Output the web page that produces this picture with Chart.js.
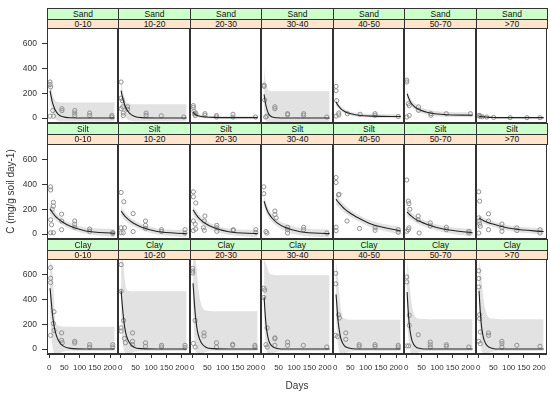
<!DOCTYPE html>
<html>
<head>
<meta charset="utf-8">
<script src="https://cdn.jsdelivr.net/npm/chart.js@4.4.0/dist/chart.umd.min.js"></script>
<style>
  body { margin: 0; background: #fff; width: 550px; height: 395px; position: relative; overflow: hidden;
         font-family: "Liberation Sans", Arial, sans-serif; }
  .box { position: absolute; }
  .strip { position: absolute; box-sizing: border-box; border: 1px solid #333; text-align: center;
           font-size: 8.5px; color: #111; white-space: nowrap; overflow: hidden; }
</style>
</head>
<body>
<script>
const TEXTURES = ['Sand', 'Silt', 'Clay'];
const DEPTHS = ['0-10', '10-20', '20-30', '30-40', '40-50', '50-70', '>70'];
const X_TICKS = [0, 50, 100, 150, 200];
const Y_TICKS = [0, 200, 400, 600];
const FIT_DAYS = [3, 6, 10, 15, 20, 30, 45, 70, 120, 215];

// fitted curve, one row per depth, read at FIT_DAYS
const sandFit = [
  [220, 180, 135, 95, 65, 30, 10, 2, 0, 0],
  [220, 185, 145, 105, 75, 40, 15, 3, 0, 0],
  [50, 40, 30, 22, 18, 12, 8, 5, 3, 3],
  [190, 140, 90, 50, 25, 8, 2, 0, 0, 0],
  [130, 115, 100, 85, 72, 55, 38, 25, 15, 12],
  [195, 175, 150, 125, 108, 85, 65, 45, 28, 22],
  [15, 13, 12, 10, 9, 7, 5, 3, 3, 3]
];
const sandUpper = [
  [310, 270, 210, 165, 140, 128, 125, 125, 125, 125],
  [300, 260, 200, 155, 130, 115, 110, 110, 110, 110],
  [80, 65, 50, 40, 33, 25, 20, 15, 15, 15],
  [400, 330, 270, 230, 220, 216, 215, 215, 215, 215],
  [160, 140, 122, 105, 92, 72, 55, 42, 32, 30],
  [230, 205, 180, 155, 138, 112, 90, 68, 50, 45],
  [23, 21, 20, 18, 17, 15, 13, 11, 11, 11]
];
const sandLower = [
  [130, 90, 55, 20, -5, -25, -28, -28, -28, -28],
  [140, 100, 60, 25, 0, -20, -25, -25, -25, -25],
  [20, 15, 10, 5, 3, 0, -3, -5, -5, -5],
  [60, 10, -30, -35, -35, -35, -35, -35, -35, -35],
  [100, 88, 78, 65, 55, 40, 25, 12, 2, -2],
  [160, 145, 122, 100, 82, 60, 42, 25, 10, 5],
  [7, 5, 4, 2, 1, -1, -3, -5, -5, -5]
];
const siltFit = [
  [200, 190, 175, 160, 145, 122, 95, 62, 25, 5],
  [185, 175, 160, 145, 132, 110, 85, 55, 20, 3],
  [195, 183, 168, 150, 135, 110, 83, 52, 18, 3],
  [265, 240, 210, 180, 158, 125, 90, 55, 18, 3],
  [280, 270, 258, 243, 230, 205, 175, 138, 78, 25],
  [178, 170, 160, 148, 138, 120, 100, 75, 40, 10],
  [130, 125, 118, 112, 105, 95, 82, 65, 40, 20]
];
const siltUpper = [
  [245, 230, 212, 193, 177, 150, 120, 88, 52, 40],
  [225, 212, 197, 180, 166, 140, 112, 80, 45, 30],
  [235, 220, 203, 183, 167, 138, 108, 77, 45, 32],
  [310, 282, 250, 218, 193, 155, 118, 85, 48, 35],
  [325, 310, 295, 278, 263, 237, 205, 165, 105, 55],
  [215, 204, 192, 178, 167, 147, 125, 100, 65, 40],
  [160, 152, 145, 137, 130, 118, 104, 87, 62, 45]
];
const siltLower = [
  [155, 148, 138, 125, 113, 94, 70, 38, 3, -25],
  [145, 138, 125, 110, 98, 80, 58, 30, -3, -25],
  [155, 146, 133, 117, 103, 82, 58, 27, -5, -25],
  [220, 198, 170, 142, 123, 95, 62, 25, -10, -28],
  [235, 228, 220, 208, 197, 173, 145, 110, 52, -5],
  [140, 135, 127, 117, 108, 93, 75, 50, 15, -20],
  [100, 98, 92, 87, 80, 72, 60, 43, 18, -5]
];
const clayFit = [
  [490, 410, 300, 205, 140, 70, 25, 5, 0, 0],
  [470, 380, 270, 170, 110, 50, 15, 3, 0, 0],
  [530, 420, 290, 180, 115, 50, 15, 3, 0, 0],
  [420, 300, 180, 100, 55, 20, 5, 0, 0, 0],
  [440, 340, 220, 130, 75, 28, 8, 0, 0, 0],
  [460, 330, 200, 110, 60, 20, 5, 0, 0, 0],
  [470, 340, 210, 120, 70, 25, 7, 0, 0, 0]
];
const clayUpper = [
  [700, 690, 640, 450, 230, 190, 182, 180, 180, 180],
  [730, 730, 700, 560, 480, 468, 465, 465, 465, 465],
  [730, 730, 730, 650, 500, 360, 310, 305, 305, 305],
  [730, 710, 680, 640, 610, 598, 595, 595, 595, 595],
  [700, 650, 560, 420, 300, 245, 237, 235, 235, 235],
  [700, 660, 560, 420, 330, 260, 243, 240, 240, 240],
  [710, 680, 600, 460, 360, 270, 245, 240, 240, 240]
];
const clayLower = [
  [300, 150, 40, -20, -45, -40, -22, -16, -15, -15],
  [280, 130, 20, -30, -45, -38, -22, -16, -15, -15],
  [320, 150, 20, -30, -45, -38, -22, -16, -15, -15],
  [250, 100, 0, -40, -45, -36, -22, -16, -15, -15],
  [260, 130, 20, -30, -45, -38, -22, -16, -15, -15],
  [270, 130, 20, -30, -45, -38, -22, -16, -15, -15],
  [270, 130, 15, -30, -45, -38, -22, -16, -15, -15]
];

// observations [day, C]
const sandObs = [
  [[3,290],[3,270],[5,250],[3,15],[14,15],[12,60],[42,75],[42,60],[84,60],[84,40],[84,20],[133,40],[133,20],[206,20],[206,8]],
  [[3,290],[3,160],[3,75],[7,140],[8,90],[10,40],[10,20],[24,90],[24,70],[84,40],[84,22],[133,18],[206,8]],
  [[4,100],[4,85],[6,55],[8,35],[12,40],[10,20],[42,35],[42,22],[80,8],[80,20],[134,30],[134,8],[208,8]],
  [[3,265],[3,255],[5,145],[8,8],[12,15],[38,90],[38,75],[79,35],[79,27],[131,35],[131,22],[206,8]],
  [[3,255],[3,220],[5,140],[3,15],[12,40],[12,25],[40,35],[82,30],[131,35],[131,22],[207,12]],
  [[2,305],[2,290],[7,115],[10,100],[2,8],[10,20],[40,90],[40,62],[80,35],[80,22],[130,35],[208,35]],
  [[2,20],[5,20],[7,12],[14,10],[28,8],[51,5],[105,3],[160,3],[203,3]]
];
const siltObs = [
  [[5,380],[5,355],[14,255],[14,225],[10,200],[5,115],[8,75],[5,10],[14,10],[41,160],[41,105],[41,35],[84,105],[84,80],[84,55],[133,40],[133,22],[209,5],[209,12]],
  [[3,335],[12,260],[3,50],[3,10],[10,10],[14,50],[42,165],[42,20],[82,105],[82,70],[82,45],[134,35],[134,20],[210,35],[210,8]],
  [[4,340],[4,300],[12,250],[4,105],[10,80],[4,28],[12,40],[42,145],[40,105],[37,50],[40,30],[81,70],[81,50],[81,22],[135,35],[135,30],[209,35],[209,14]],
  [[2,380],[2,325],[38,185],[38,157],[9,20],[12,8],[42,130],[79,54],[79,35],[79,8],[131,54],[131,35],[206,8]],
  [[3,455],[3,415],[11,315],[13,320],[3,55],[3,27],[39,105],[80,45],[131,50],[131,30],[207,35],[207,14]],
  [[2,435],[7,265],[9,245],[12,200],[9,50],[7,35],[2,22],[39,145],[39,115],[42,8],[78,90],[78,65],[130,55],[130,35],[203,22],[203,8]],
  [[2,340],[5,265],[2,130],[3,105],[5,80],[7,62],[34,163],[34,105],[34,35],[2,8],[78,80],[78,50],[78,22],[127,50],[127,28],[203,35],[203,8]]
];
const clayObs = [
  [[5,655],[5,570],[5,535],[5,110],[16,300],[14,205],[16,150],[41,130],[41,70],[43,50],[84,62],[84,48],[133,35],[133,16],[209,35],[209,16]],
  [[3,680],[3,465],[3,170],[3,145],[11,230],[14,85],[17,50],[40,130],[40,62],[40,35],[82,50],[82,22],[134,30],[134,16],[210,30],[210,11]],
  [[2,650],[2,628],[2,612],[4,45],[10,16],[10,230],[39,130],[39,105],[80,50],[80,16],[133,38],[133,30],[206,30],[206,16]],
  [[2,490],[5,475],[2,415],[13,170],[9,35],[13,16],[38,90],[38,83],[38,30],[79,56],[79,30],[130,30],[206,16]],
  [[2,610],[2,525],[1,110],[8,100],[11,275],[14,250],[35,130],[35,78],[79,35],[79,22],[131,35],[131,22],[207,30],[207,16]],
  [[2,580],[2,540],[2,25],[8,25],[10,272],[10,190],[39,115],[78,56],[78,35],[78,16],[130,35],[130,22],[203,16]],
  [[2,630],[2,568],[2,500],[5,277],[5,245],[7,137],[2,62],[7,43],[34,130],[34,110],[78,62],[78,43],[78,16],[127,30],[203,22]]
];

const FIT = [sandFit, siltFit, clayFit];
const UPPER = [sandUpper, siltUpper, clayUpper];
const LOWER = [sandLower, siltLower, clayLower];
const OBS = [sandObs, siltObs, clayObs];

// page layout
const COL_X = [47, 118, 190, 261, 333, 404, 476, 547];
const ROW_STRIP = [8, 123, 239];
const ROW_TOP = [28, 144, 259];
const ROW_BOTTOM = [123, 239, 354];
const FONT = '"Liberation Sans", Arial, sans-serif';

const framePlugin = {
  id: 'frame',
  afterDraw(chart) {
    const a = chart.chartArea, ctx = chart.ctx;
    ctx.save();
    ctx.strokeStyle = '#333';
    ctx.lineWidth = 1;
    ctx.strokeRect(a.left + 0.5, a.top + 0.5, a.right - a.left - 1, a.bottom - a.top - 1);
    ctx.restore();
  }
};

function addStrip(text, x, y, w, h, bg) {
  const d = document.createElement('div');
  d.className = 'strip';
  d.style.left = x + 'px';
  d.style.top = y + 'px';
  d.style.width = w + 'px';
  d.style.height = h + 'px';
  d.style.lineHeight = (h - 2) + 'px';
  d.style.background = bg;
  d.textContent = text;
  document.body.appendChild(d);
}

function xy(days, vals) {
  return days.map((d, i) => ({ x: d, y: vals[i] }));
}

function drawPanel(r, c) {
  const left = c === 0 ? 0 : COL_X[c];
  const top = ROW_TOP[r];
  const w = COL_X[c + 1] - left;
  const h = (r === 2 ? 395 : ROW_BOTTOM[r]) - top;
  const box = document.createElement('div');
  box.className = 'box';
  box.style.left = left + 'px';
  box.style.top = top + 'px';
  box.style.width = w + 'px';
  box.style.height = h + 'px';
  const cv = document.createElement('canvas');
  box.appendChild(cv);
  document.body.appendChild(box);

  // strips
  const sx = COL_X[c], sw = COL_X[c + 1] - COL_X[c] + 1;
  const mid = ROW_STRIP[r] + 11;
  addStrip(TEXTURES[r], sx, ROW_STRIP[r], sw, mid - ROW_STRIP[r] + 1, '#ccffcc');
  addStrip(DEPTHS[c], sx, mid, sw, ROW_TOP[r] - mid + 1, '#ffe5cc');

  new Chart(cv, {
    type: 'line',
    data: {
      datasets: [
        { data: xy(FIT_DAYS, UPPER[r][c]), borderWidth: 0, pointRadius: 0, fill: '+1',
          backgroundColor: '#e2e2e2', cubicInterpolationMode: 'monotone', order: 3 },
        { data: xy(FIT_DAYS, LOWER[r][c]), borderWidth: 0, pointRadius: 0, fill: false,
          cubicInterpolationMode: 'monotone', order: 3 },
        { data: xy(FIT_DAYS, FIT[r][c]), borderColor: '#222', borderWidth: 1.1, pointRadius: 0,
          fill: false, cubicInterpolationMode: 'monotone', order: 1 },
        { type: 'scatter', data: OBS[r][c].map(p => ({ x: p[0], y: p[1] })), borderColor: '#909090',
          backgroundColor: 'rgba(0,0,0,0)', pointRadius: 2.1, borderWidth: 1, order: 2 }
      ]
    },
    options: {
      responsive: true,
      maintainAspectRatio: false,
      animation: false,
      devicePixelRatio: 1,
      layout: { padding: 0, autoPadding: false },
      plugins: { legend: { display: false }, tooltip: { enabled: false },
                 filler: { drawTime: 'beforeDatasetsDraw' } },
      scales: {
        x: {
          type: 'linear', min: -7, max: 226, display: r === 2,
          afterBuildTicks: s => { s.ticks = X_TICKS.map(v => ({ value: v })); },
          afterFit: s => {
            if (!s.options.display) return;
            s.height = 41; s.paddingLeft = 0; s.paddingRight = 0;
          },
          grid: { drawOnChartArea: false, tickLength: 4, color: '#333' },
          border: { color: '#333' },
          ticks: { font: { size: 8, family: FONT }, color: '#333', padding: 5, maxRotation: 0, autoSkip: false },
          title: { display: r === 2 && c === 3, text: 'Days', color: '#333',
                   font: { size: 10, family: FONT }, padding: { top: 0, bottom: 3 } }
        },
        y: {
          type: 'linear', min: -40, max: 725, display: c === 0,
          afterBuildTicks: s => { s.ticks = Y_TICKS.map(v => ({ value: v })); },
          afterFit: s => {
            if (!s.options.display) return;
            s.width = 47; s.paddingTop = 0; s.paddingBottom = 0;
          },
          grid: { drawOnChartArea: false, tickLength: 5, color: '#333' },
          border: { color: '#333' },
          ticks: { font: { size: 8.5, family: FONT }, color: '#333', padding: 5 },
          title: { display: r === 1 && c === 0, text: 'C (mg/g soil day-1)', color: '#333',
                   font: { size: 10, family: FONT }, padding: { top: 5, bottom: 0 } }
        }
      }
    },
    plugins: [framePlugin]
  });
}

for (let r = 0; r < 3; r++) {
  for (let c = 0; c < 7; c++) drawPanel(r, c);
}
</script>
</body>
</html>
